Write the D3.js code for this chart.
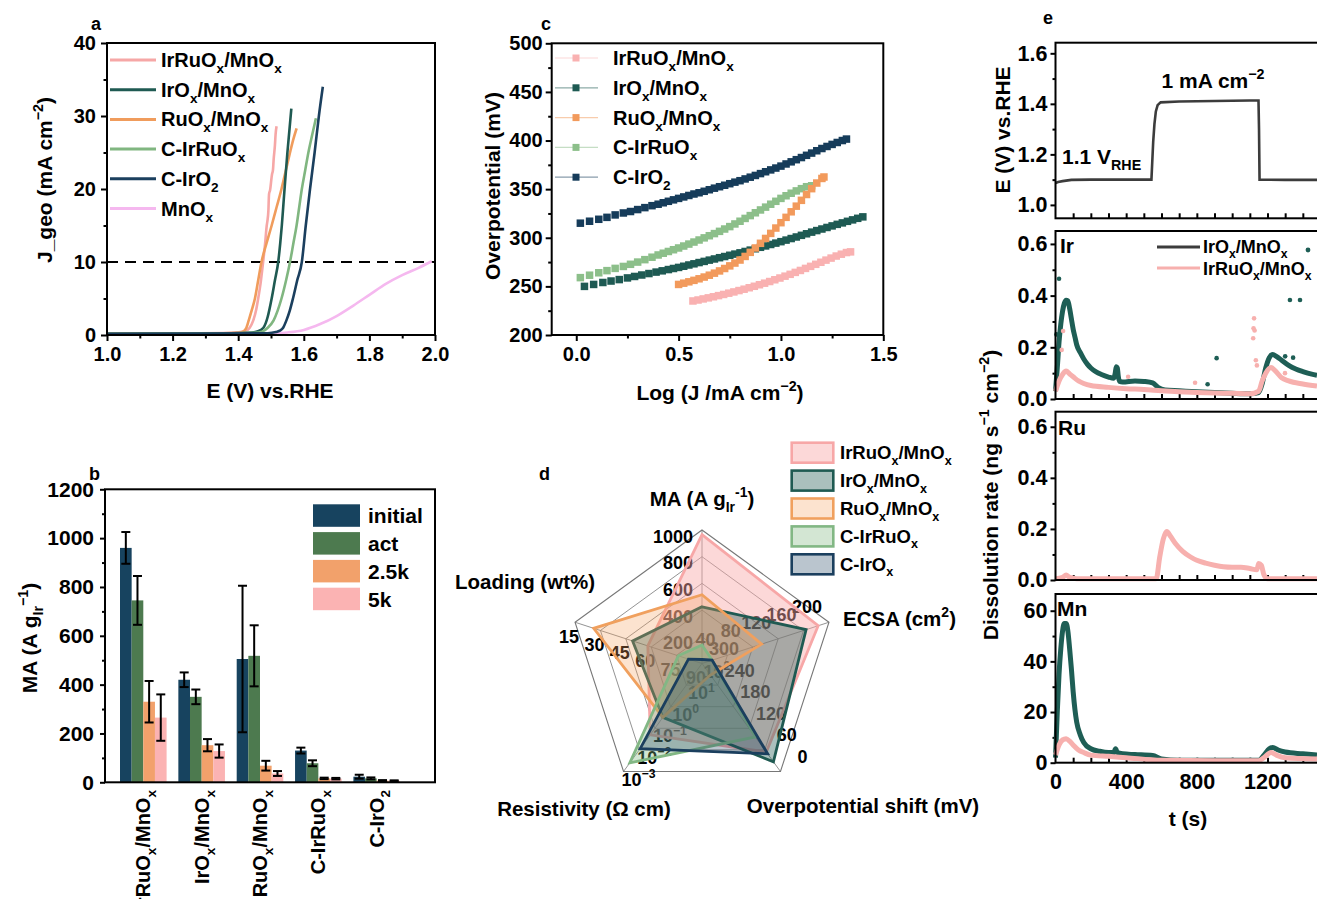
<!DOCTYPE html>
<html><head><meta charset="utf-8">
<script src="https://cdn.jsdelivr.net/npm/d3@7"></script>
<style>body{margin:0;background:#fff}svg{display:block}</style>
</head><body><svg id="fig" width="1317" height="899"></svg>
<script>
// ===================== DATA =====================
// ---- panel a : LSV curves [E (V vs RHE), J (mA cm-2)]
const lsvIrRuOxMnOx = [[1.0,0.15],[1.2,0.2],[1.38,0.3],[1.42,0.5],[1.435,1.0],[1.446,2.0],[1.455,3.5],[1.461,5],[1.468,7],[1.476,10],[1.482,12.5],[1.487,15],[1.489,15.6],[1.492,17],[1.494,19.3],[1.497,19.8],[1.503,22],[1.506,22.6],[1.508,24],[1.512,26],[1.514,27.5],[1.517,28.6]];
const lsvIrOxMnOx = [[1.0,0.15],[1.3,0.2],[1.44,0.35],[1.46,0.5],[1.477,1.0],[1.49,2.5],[1.502,5],[1.512,7.5],[1.522,10],[1.528,12.5],[1.533,15],[1.538,18],[1.543,21],[1.55,25],[1.556,28],[1.562,31]];
const lsvRuOxMnOx = [[1.0,0.15],[1.3,0.2],[1.40,0.3],[1.416,0.5],[1.425,1.0],[1.432,2],[1.442,3.5],[1.451,5],[1.461,7.5],[1.471,10],[1.486,12.5],[1.502,15],[1.517,17.5],[1.532,20],[1.545,22.5],[1.558,25],[1.568,26.8],[1.578,28.3]];
const lsvCIrRuOx = [[1.0,0.15],[1.3,0.2],[1.45,0.3],[1.475,0.5],[1.49,1.0],[1.508,2],[1.52,3.3],[1.532,5],[1.546,7.5],[1.558,10],[1.568,12.5],[1.578,15],[1.586,17.5],[1.594,20],[1.604,22.5],[1.614,25],[1.626,27.5],[1.637,29.7]];
const lsvCIrO2 = [[1.0,0.15],[1.3,0.2],[1.49,0.25],[1.515,0.4],[1.527,0.6],[1.537,1.0],[1.547,2],[1.557,3.3],[1.567,5],[1.58,7.5],[1.594,10],[1.606,15],[1.619,20],[1.633,25],[1.646,30],[1.658,34]];
const lsvMnOx = [[1.0,0.1],[1.3,0.15],[1.5,0.2],[1.55,0.35],[1.6,0.7],[1.65,1.5],[1.7,2.6],[1.75,4.0],[1.8,5.5],[1.85,7.0],[1.9,8.2],[1.95,9.2],[1.99,10.1]];
const aSeriesNames = ['IrRuO~x/MnO~x','IrO~x/MnO~x','RuO~x/MnO~x','C-IrRuO~x','C-IrO~2','MnO~x'];
const aXMajor = [1.0,1.2,1.4,1.6,1.8,2.0], aXMinor = [1.1,1.3,1.5,1.7,1.9];
const aYMajor = [0,10,20,30,40], aYMinor = [5,15,25,35];
const aRefJ = 10;

// ---- panel b : mass activity (A g_Ir^-1)
const bCategories = ['IrRuO~x/MnO~x','IrO~x/MnO~x','RuO~x/MnO~x','C-IrRuO~x','C-IrO~2'];
const bSeries = ['initial','act','2.5k','5k'];
const maInitial = [960,420,505,130,23],  maInitialErr = [65,30,300,12,8];
const maAct     = [745,350,518,78,16],   maActErr     = [100,30,125,12,4];
const ma2500    = [330,152,68,16,7],     ma2500Err    = [85,25,20,3,2];
const ma5000    = [265,128,36,15,6],     ma5000Err    = [95,27,10,3,2];
const bYMajor = [0,200,400,600,800,1000,1200], bYMinor = [100,300,500,700,900,1100];

// ---- panel c : Tafel [log J, overpotential mV]
const tafelIrRuOxMnOx = [[0.57,235],[0.595,236],[0.62,237.1],[0.645,238.2],[0.67,239.3],[0.695,240.5],[0.72,241.7],[0.745,243],[0.77,244.3],[0.795,245.7],[0.82,247.1],[0.845,248.6],[0.87,250.1],[0.895,251.7],[0.92,253.3],[0.945,255],[0.97,256.8],[0.995,258.6],[1.02,260.5],[1.045,262.4],[1.07,264.4],[1.095,266.4],[1.12,268.5],[1.145,270.6],[1.17,272.7],[1.195,274.8],[1.22,277],[1.245,279.1],[1.27,281.2],[1.295,283.1],[1.32,284.8],[1.34,285.5]];
const tafelIrOxMnOx = [[0.04,250],[0.085,252],[0.13,254],[0.17,255.5],[0.21,257],[0.25,258.7],[0.285,260.2],[0.32,261.7],[0.355,263.2],[0.39,264.7],[0.42,266],[0.45,267.3],[0.475,268.4],[0.50,269.5],[0.525,270.7],[0.55,272],[0.575,273.2],[0.60,274.5],[0.625,275.7],[0.65,277],[0.675,278.2],[0.70,279.5],[0.725,280.7],[0.75,282],[0.775,283.2],[0.80,284.5],[0.825,285.9],[0.85,287.3],[0.875,288.7],[0.90,290.2],[0.925,291.6],[0.95,293.1],[0.975,294.5],[1.00,296],[1.025,297.6],[1.05,299.2],[1.075,300.8],[1.10,302.5],[1.125,304.1],[1.15,305.8],[1.175,307.4],[1.20,309],[1.225,310.6],[1.25,312.2],[1.275,313.8],[1.30,315.3],[1.325,316.9],[1.35,318.4],[1.375,320],[1.40,321.5]];
const tafelRuOxMnOx = [[0.50,252],[0.525,253.3],[0.55,254.7],[0.575,256.2],[0.60,257.8],[0.625,259.6],[0.65,261.5],[0.675,263.6],[0.70,265.9],[0.725,268.4],[0.75,271.1],[0.775,274],[0.80,277.1],[0.825,280.8],[0.85,285],[0.875,289.5],[0.90,294.3],[0.925,299.3],[0.95,304.5],[0.975,310],[1.00,315.5],[1.025,321],[1.05,326.7],[1.075,332.5],[1.10,338.5],[1.125,344.5],[1.15,350.5],[1.175,356.3],[1.20,361],[1.21,362.5]];
const tafelCIrRuOx = [[0.02,259],[0.065,261.5],[0.11,264],[0.15,266.2],[0.19,268.5],[0.23,270.5],[0.265,272.7],[0.30,275],[0.335,277.5],[0.37,280],[0.40,282.3],[0.425,284.1],[0.45,285.9],[0.475,287.7],[0.50,289.5],[0.525,291.5],[0.55,293.5],[0.575,295.6],[0.60,297.7],[0.625,299.9],[0.65,302.1],[0.675,304.3],[0.70,306.6],[0.725,309],[0.75,311.5],[0.775,314.2],[0.80,317],[0.825,319.9],[0.85,322.8],[0.875,325.7],[0.90,328.6],[0.925,331.5],[0.95,334.5],[0.975,337.5],[1.00,340.5],[1.025,343.2],[1.05,345.8],[1.075,348.2],[1.10,350.5],[1.125,352.5],[1.15,353.5]];
const tafelCIrO2 = [[0.02,315],[0.065,317],[0.11,319],[0.15,321],[0.19,323.5],[0.23,325.5],[0.265,327],[0.30,329],[0.335,331],[0.37,333],[0.40,334.5],[0.425,336],[0.45,337.5],[0.475,339],[0.50,340.5],[0.525,342],[0.55,343.5],[0.575,345],[0.60,346.3],[0.625,347.8],[0.65,349.4],[0.675,351],[0.70,352.5],[0.725,354],[0.75,355.6],[0.775,357.2],[0.80,358.7],[0.825,360.5],[0.85,362.3],[0.875,364.1],[0.90,366],[0.925,367.9],[0.95,369.8],[0.975,371.7],[1.00,373.7],[1.025,375.9],[1.05,378.1],[1.075,380.3],[1.10,382.5],[1.125,384.8],[1.15,387.1],[1.175,389.5],[1.20,391.8],[1.225,393.9],[1.25,396],[1.275,398],[1.30,400],[1.32,401.5]];
const cSeriesNames = ['IrRuO~x/MnO~x','IrO~x/MnO~x','RuO~x/MnO~x','C-IrRuO~x','C-IrO~2'];
const cXMajor = [0,0.5,1.0,1.5], cXMinor = [0.25,0.75,1.25];
const cYMajor = [200,250,300,350,400,450,500], cYMinor = [225,275,325,375,425,475];

// ---- panel d : radar values [MA, ECSA, overpotential shift, resistivity, loading]
const radarAxisNames = ['MA (A g~{Ir}^{-1})','ECSA (cm^2)','Overpotential shift (mV)','Resistivity (\u03A9 cm)','Loading (wt%)'];
const radarIrRuOxMnOx = [965,183,54,0.05,58];
const radarIrOxMnOx   = [425,164,27,0.32,49];
const radarRuOxMnOx   = [515,94,268,0.32,26];
const radarCIrRuOx    = [139,16,96,0.0025,76];
const radarCIrOx      = [30,16,49,0.0115,82];
const dSeriesNames = ['IrRuO~x/MnO~x','IrO~x/MnO~x','RuO~x/MnO~x','C-IrRuO~x','C-IrO~x'];
const radarTicksMA   = [200,400,600,800,1000];
const radarTicksECSA = [40,80,120,160,200];
const radarTicksOP   = [300,240,180,120,60,0];
const radarTicksRes  = [100,10,1,0.1,0.01,0.001];
const radarTickLabelsRes = ['10^2','10^1','10^0','10^{\u22121}','10^{\u22122}','10^{\u22123}'];
const radarTicksLoad = [90,75,60,45,30,15];

// ---- panel e : time resolved potential / dissolution [t (s), value]
const potential = [[0,1.087],[15,1.091],[40,1.094],[70,1.097],[90,1.099],[200,1.1],[400,1.1],[543,1.1],[547,1.16],[553,1.25],[560,1.32],[568,1.37],[578,1.395],[595,1.406],[700,1.409],[900,1.411],[1100,1.413],[1149,1.413],[1152,1.3],[1155,1.1],[1300,1.099],[1500,1.099]];
const irIrOxMnOx = [[0,0.03],[10,0.12],[20,0.22],[30,0.29],[40,0.34],[50,0.37],[60,0.382],[70,0.38],[80,0.35],[90,0.31],[100,0.27],[110,0.24],[120,0.21],[140,0.18],[160,0.155],[180,0.135],[200,0.12],[230,0.105],[260,0.095],[300,0.085],[330,0.08],[338,0.1],[344,0.125],[350,0.12],[355,0.09],[362,0.068],[380,0.066],[450,0.07],[500,0.068],[550,0.062],[580,0.045],[620,0.035],[700,0.032],[800,0.028],[900,0.025],[1000,0.022],[1100,0.02],[1150,0.025],[1170,0.06],[1190,0.12],[1210,0.16],[1230,0.172],[1250,0.165],[1280,0.15],[1320,0.13],[1360,0.116],[1400,0.106],[1450,0.096],[1480,0.092]];
const irIrRuOxMnOx = [[0,0.03],[20,0.07],[40,0.095],[60,0.108],[80,0.097],[100,0.086],[130,0.07],[160,0.06],[200,0.052],[300,0.045],[400,0.04],[500,0.037],[600,0.032],[700,0.028],[800,0.025],[900,0.023],[1000,0.022],[1100,0.02],[1150,0.03],[1170,0.07],[1190,0.1],[1220,0.122],[1240,0.112],[1280,0.082],[1320,0.07],[1400,0.058],[1480,0.05]];
const irOutIrOx = [[5,0.25],[20,0.465],[861,0.057],[912,0.158],[1300,0.165],[1327,0.383],[1345,0.16],[1384,0.383]];
const irOutIrRuOx = [[35,0.19],[43,0.263],[411,0.086],[790,0.063],[1119,0.235],[1121,0.274],[1124,0.312],[1127,0.265],[1134,0.15],[1140,0.13],[1299,0.10]];
const ruIrRuOxMnOx = [[0,0.005],[40,0.01],[60,0.02],[80,0.01],[120,0.005],[500,0.005],[570,0.005],[590,0.09],[610,0.16],[630,0.19],[650,0.172],[680,0.142],[720,0.112],[760,0.092],[800,0.077],[850,0.066],[900,0.058],[950,0.052],[1000,0.05],[1050,0.05],[1100,0.045],[1140,0.04],[1150,0.065],[1165,0.058],[1180,0.02],[1200,0.005],[1480,0.005]];
const mnIrOxMnOx = [[0,2],[10,20],[20,35],[30,45],[40,52],[50,55],[60,55],[70,52],[80,45],[90,37],[100,28],[110,21],[120,16],[140,11],[160,8],[200,5.5],[250,4.5],[300,4],[330,4],[340,5.5],[350,4],[380,3.5],[450,3.2],[550,2.8],[600,1.5],[700,1],[1000,1],[1150,1],[1180,3],[1210,5.5],[1230,6],[1260,5],[1300,4.2],[1400,3.5],[1480,3]];
const mnIrRuOxMnOx = [[0,3],[20,7],[40,9],[60,9.5],[80,8.5],[100,7],[130,5],[160,4],[200,3],[300,2.5],[400,2],[600,1],[1000,0.8],[1150,0.8],[1180,2],[1220,4],[1250,3],[1300,2],[1480,1.5]];
const eXMinor = [100,200,300,400,500,600,700,800,900,1000,1100,1200,1300,1400];
const eXMajor = [0,400,800,1200];
const eYE = [1.0,1.2,1.4,1.6], eYEMinor = [1.1,1.3,1.5];
const eYIr = [0,0.2,0.4,0.6], eYIrMinor = [0.1,0.3,0.5];
const eYMn = [0,20,40,60], eYMnMinor = [10,30,50];
const eLegendNames = ['IrO~x/MnO~x','IrRuO~x/MnO~x'];

// ===================== HELPERS =====================
const FONT = '"Liberation Sans", Arial, Helvetica, sans-serif';
const svg = d3.select('#fig').attr('font-family', FONT).attr('font-weight','bold');

function rich(sel, str, fs) {
  const segs = []; let i = 0, cur = '';
  while (i < str.length) {
    const c = str[i];
    if (c === '~' || c === '^') {
      if (cur) segs.push({t:cur,k:0}); cur = '';
      let g;
      if (str[i+1] === '{') { const j = str.indexOf('}', i+2); g = str.slice(i+2, j); i = j+1; }
      else { g = str[i+1]; i += 2; }
      segs.push({t:g, k: c === '~' ? 1 : -1});
    } else { cur += c; i++; }
  }
  if (cur) segs.push({t:cur,k:0});
  let off = 0;
  segs.forEach(s => {
    const target = s.k === 1 ? 0.3*fs : s.k === -1 ? -0.42*fs : 0;
    const ts = sel.append('tspan').text(s.t);
    if (target - off !== 0) ts.attr('dy', target - off);
    if (s.k) ts.attr('font-size', 0.68*fs);
    off = target;
  });
}
function txt(g, x, y, str, fs, o = {}) {
  const t = g.append('text').attr('x', x).attr('y', y).attr('font-size', fs)
    .attr('text-anchor', o.anchor || 'start').attr('fill', o.fill || '#000')
    .attr('font-family', FONT).attr('font-weight', 'bold');
  if (o.rotate) t.attr('transform', `rotate(${o.rotate},${x},${y})`);
  rich(t, str, fs);
  return t;
}
function box(g, x0, y0, x1, y1) {
  g.append('rect').attr('x', x0).attr('y', y0).attr('width', x1-x0).attr('height', y1-y0)
    .attr('fill','none').attr('stroke','#000').attr('stroke-width',2);
}
function addAxis(g, gen, tx, ty, fs) {
  const a = g.append('g').attr('transform', `translate(${tx},${ty})`).call(gen);
  a.attr('font-family', FONT).attr('font-size', fs).attr('font-weight','bold');
  a.select('.domain').remove();
  a.selectAll('.tick line').attr('stroke','#000').attr('stroke-width',2);
  a.selectAll('.tick text').attr('fill','#000');
  return a;
}

// ===================== PANEL A =====================
(function(){
  const g = svg.append('g');
  const x = d3.scaleLinear([1,2],[107,435]);
  const y = d3.scaleLinear([0,40],[335,43]);
  const colors = ['#f6a7a6','#1f5a52','#f09c5c','#80b680','#1b3f5e','#f5b8ef'];
  const series = [lsvIrRuOxMnOx, lsvIrOxMnOx, lsvRuOxMnOx, lsvCIrRuOx, lsvCIrO2, lsvMnOx];
  addAxis(g, d3.axisBottom(x).tickValues(aXMajor).tickSizeInner(6).tickSizeOuter(0).tickPadding(6).tickFormat(d3.format('.1f')), 0, 335, 20);
  addAxis(g, d3.axisBottom(x).tickValues(aXMinor).tickSizeInner(3.5).tickSizeOuter(0).tickFormat(''), 0, 335, 20);
  addAxis(g, d3.axisLeft(y).tickValues(aYMajor).tickSizeInner(6).tickSizeOuter(0).tickPadding(5).tickFormat(d3.format('d')), 107, 0, 20);
  addAxis(g, d3.axisLeft(y).tickValues(aYMinor).tickSizeInner(3.5).tickSizeOuter(0).tickFormat(''), 107, 0, 20);
  g.append('line').attr('x1', x(1)).attr('x2', x(2)).attr('y1', y(aRefJ)).attr('y2', y(aRefJ))
    .attr('stroke','#000').attr('stroke-width',2).attr('stroke-dasharray','11,7');
  const line = d3.line().x(d => x(d[0])).y(d => y(d[1])).curve(d3.curveMonotoneX);
  [5,0,2,1,3,4].forEach(i => {
    g.append('path').attr('d', line(series[i])).attr('fill','none').attr('stroke', colors[i]).attr('stroke-width', 2.6);
  });
  aSeriesNames.forEach((n, i) => {
    const yy = 60 + i*29.7;
    g.append('line').attr('x1',110).attr('x2',156).attr('y1',yy).attr('y2',yy).attr('stroke',colors[i]).attr('stroke-width',3);
    txt(g, 161, yy+7, n, 20);
  });
  box(g, 107, 43, 435, 335);
  txt(g, 52, 180, 'J_geo (mA cm^{\u22122})', 21, {anchor:'middle', rotate:-90});
  txt(g, 270, 398, 'E (V) vs.RHE', 21, {anchor:'middle'});
  txt(g, 91, 30, 'a', 18);
})();

// ===================== PANEL B =====================
(function(){
  const g = svg.append('g');
  const xg = d3.scalePoint(bCategories, [143.3, 376.7]);
  const xi = d3.scaleBand(bSeries, [-23.3, 23.3]);
  const y = d3.scaleLinear([0,1200],[782.3,489.3]);
  const colors = ['#17435f','#4d7a4f','#f2a16b','#fbb3b3'];
  const vals = [maInitial, maAct, ma2500, ma5000];
  const errs = [maInitialErr, maActErr, ma2500Err, ma5000Err];
  addAxis(g, d3.axisLeft(y).tickValues(bYMajor).tickSizeInner(5).tickSizeOuter(0).tickPadding(6).tickFormat(d3.format('d')), 105, 0, 21);
  addAxis(g, d3.axisLeft(y).tickValues(bYMinor).tickSizeInner(3).tickSizeOuter(0).tickFormat(''), 105, 0, 21);
  bSeries.forEach((s, si) => {
    bCategories.forEach((c, ci) => {
      const x0 = xg(c) + xi(s);
      g.append('rect').attr('x', x0).attr('width', xi.bandwidth()).attr('y', y(vals[si][ci]))
        .attr('height', y(0) - y(vals[si][ci])).attr('fill', colors[si]);
    });
  });
  bSeries.forEach((s, si) => {
    bCategories.forEach((c, ci) => {
      const xc = xg(c) + xi(s) + xi.bandwidth()/2;
      const hi = y(vals[si][ci] + errs[si][ci]), lo = y(Math.max(0, vals[si][ci] - errs[si][ci]));
      g.append('line').attr('x1',xc).attr('x2',xc).attr('y1',hi).attr('y2',lo).attr('stroke','#000').attr('stroke-width',2);
      [hi, lo].forEach(yy => g.append('line').attr('x1',xc-4.5).attr('x2',xc+4.5).attr('y1',yy).attr('y2',yy).attr('stroke','#000').attr('stroke-width',2));
    });
  });
  box(g, 105, 489.3, 435, 782.3);
  bCategories.forEach(c => {
    txt(g, xg(c)+7, 790, c, 20, {anchor:'end', rotate:-90});
  });
  bSeries.forEach((s, i) => {
    const top = 504.3 + i*27.8;
    g.append('rect').attr('x',313).attr('y',top).attr('width',47).attr('height',22.5).attr('fill',colors[i]);
    txt(g, 368, top + 19, s, 21);
  });
  txt(g, 37, 638, 'MA (A g~{Ir}^{\u22121})', 21, {anchor:'middle', rotate:-90});
  txt(g, 89, 480, 'b', 18);
})();

// ===================== PANEL C =====================
(function(){
  const g = svg.append('g');
  const x = d3.scaleLinear([-0.12,1.5],[551.7,883.3]);
  const y = d3.scaleLinear([200,500],[335,43.3]);
  const colors = ['#f9b1b1','#1e5a53','#f29a5c','#8cbf8a','#163c5a'];
  const series = [tafelIrRuOxMnOx, tafelIrOxMnOx, tafelRuOxMnOx, tafelCIrRuOx, tafelCIrO2];
  addAxis(g, d3.axisBottom(x).tickValues(cXMajor).tickSizeInner(6).tickSizeOuter(0).tickPadding(6).tickFormat(d3.format('.1f')), 0, 335, 20);
  addAxis(g, d3.axisBottom(x).tickValues(cXMinor).tickSizeInner(3.5).tickSizeOuter(0).tickFormat(''), 0, 335, 20);
  addAxis(g, d3.axisLeft(y).tickValues(cYMajor).tickSizeInner(6).tickSizeOuter(0).tickPadding(3).tickFormat(d3.format('d')), 551.7, 0, 20);
  addAxis(g, d3.axisLeft(y).tickValues(cYMinor).tickSizeInner(3.5).tickSizeOuter(0).tickFormat(''), 551.7, 0, 20);
  const s = 7.5;
  [0,1,3,2,4].forEach(i => {
    g.append('g').selectAll('rect').data(series[i]).join('rect')
      .attr('x', d => x(d[0]) - s/2).attr('y', d => y(d[1]) - s/2).attr('width', s).attr('height', s)
      .attr('fill', colors[i]);
  });
  cSeriesNames.forEach((n, i) => {
    const yy = 58 + i*29.8;
    g.append('line').attr('x1',555).attr('x2',598).attr('y1',yy).attr('y2',yy).attr('stroke',colors[i]).attr('stroke-width',1.2).attr('opacity',0.5);
    g.append('rect').attr('x',576-3.5).attr('y',yy-3.5).attr('width',7).attr('height',7).attr('fill',colors[i]);
    txt(g, 613, yy+7, n, 20);
  });
  box(g, 551.7, 43.3, 883.3, 335);
  txt(g, 500, 186, 'Overpotential (mV)', 21, {anchor:'middle', rotate:-90});
  txt(g, 720, 400, 'Log (J /mA cm^{\u22122})', 21, {anchor:'middle'});
  txt(g, 541, 30, 'c', 18);
})();

// ===================== PANEL D (radar) =====================
(function(){
  const g = svg.append('g');
  const cx = 702, cy = 663.5, R = 133.5;
  const angles = [-90,-18,54,126,198];
  const rs = [
    d3.scaleLinear([0,1000],[0,R]),
    d3.scaleLinear([0,200],[0,R]),
    d3.scaleLinear([300,0],[0,R]),
    d3.scaleLog([100,0.001],[0,R]),
    d3.scaleLinear([90,15],[0,R])
  ];
  const pt = (ai, r) => { const a = angles[ai]*Math.PI/180; return [cx + r*Math.cos(a), cy + r*Math.sin(a)]; };
  const vpt = (ai, v) => pt(ai, rs[ai](v));
  const closed = d3.line().curve(d3.curveLinearClosed);
  radarTicksMA.forEach(v => {
    const r = rs[0](v);
    g.append('path').attr('d', closed(angles.map((a, i) => pt(i, r)))).attr('fill','none')
      .attr('stroke', '#777').attr('stroke-width', v === 1000 ? 1.1 : 0.8);
  });
  angles.forEach((a, i) => {
    const p = pt(i, R);
    g.append('line').attr('x1',cx).attr('y1',cy).attr('x2',p[0]).attr('y2',p[1]).attr('stroke','#777').attr('stroke-width',0.8);
  });
  const fs = 18;
  radarTicksMA.forEach(v => { const p = vpt(0, v); txt(g, p[0]-9, p[1]+12.5, String(v), fs, {anchor:'end'}); });
  radarTicksECSA.forEach(v => { const p = vpt(1, v); txt(g, p[0]-22, p[1]-9.5, String(v), fs, {anchor:'middle'}); });
  radarTicksOP.forEach(v => { const p = vpt(2, v); txt(g, p[0]+22, p[1]-8.5, String(v), fs, {anchor:'middle'}); });
  radarTicksRes.forEach((v, i) => { const p = vpt(3, v); txt(g, p[0]+15, p[1]+14, radarTickLabelsRes[i], fs, {anchor:'middle'}); });
  radarTicksLoad.forEach(v => { const p = vpt(4, v); txt(g, p[0]-6, p[1]+20.5, String(v), fs, {anchor:'middle'}); });
  const series = [radarIrRuOxMnOx, radarIrOxMnOx, radarRuOxMnOx, radarCIrRuOx, radarCIrOx];
  const strokes = ['#f7a7a7','#1f5a52','#f0a05e','#82b784','#1b3f5e'];
  const fills = ['#f9a8a8','#1f5a52','#f4a261','#80b680','#1b3f5e'];
  const ops = [0.45,0.38,0.3,0.35,0.3];
  series.forEach((vals, si) => {
    g.append('path').attr('d', closed(vals.map((v, ai) => vpt(ai, v))))
      .attr('fill', fills[si]).attr('fill-opacity', ops[si])
      .attr('stroke', strokes[si]).attr('stroke-width', 2.8).attr('stroke-linejoin','miter');
  });
  txt(g, 702, 506, radarAxisNames[0], 20.5, {anchor:'middle'});
  txt(g, 843, 626, radarAxisNames[1], 20.5);
  txt(g, 863, 813, radarAxisNames[2], 20.5, {anchor:'middle'});
  txt(g, 584, 816, radarAxisNames[3], 20.5, {anchor:'middle'});
  txt(g, 525, 589, radarAxisNames[4], 20.5, {anchor:'middle'});
  dSeriesNames.forEach((n, i) => {
    const top = 442.7 + i*27.9;
    g.append('rect').attr('x',791.7).attr('y',top).attr('width',41.6).attr('height',20)
      .attr('fill', fills[i]).attr('fill-opacity', ops[i]).attr('stroke', strokes[i]).attr('stroke-width',2.6);
    txt(g, 840, top + 16.5, n, 18.5);
  });
  txt(g, 539, 480, 'd', 18);
})();

// ===================== PANEL E =====================
(function(){
  const g = svg.append('g');
  const x = d3.scaleLinear([0,1500],[1055.5,1320.5]);
  const teal = '#1e5e55', pink = '#f7b0ae', grey = '#3c3c3c';
  const subs = [
    {top:42.7, bottom:218.3, dom:[0.947,1.642], maj:eYE, min:eYEMinor, fmt:d3.format('.1f')},
    {top:231, bottom:399, dom:[0,0.65], maj:eYIr, min:eYIrMinor, fmt:d3.format('.1f')},
    {top:411.7, bottom:580, dom:[0,0.659], maj:eYIr, min:eYIrMinor, fmt:d3.format('.1f')},
    {top:594, bottom:762.7, dom:[0,66.6], maj:eYMn, min:eYMnMinor, fmt:d3.format('d')}
  ];
  const ys = subs.map(s => d3.scaleLinear(s.dom, [s.bottom, s.top]));
  const line = (ys_) => d3.line().x(d => x(d[0])).y(d => ys_(d[1])).curve(d3.curveMonotoneX);
  subs.forEach((s, i) => {
    addAxis(g, d3.axisLeft(ys[i]).tickValues(s.maj).tickSizeInner(5).tickSizeOuter(0).tickPadding(3).tickFormat(s.fmt), 1055.5, 0, 21.5);
    addAxis(g, d3.axisLeft(ys[i]).tickValues(s.min).tickSizeInner(3).tickSizeOuter(0).tickFormat(''), 1055.5, 0, 21.5);
    addAxis(g, d3.axisBottom(x).tickValues(eXMinor).tickSizeInner(-5).tickSizeOuter(0).tickFormat(''), 0, s.bottom, 21.5);
  });
  addAxis(g, d3.axisBottom(x).tickValues(eXMajor).tickSizeInner(0).tickSizeOuter(0).tickPadding(11).tickFormat(d3.format('d')), 0, 762.7, 21.5);
  g.append('path').attr('d', d3.line().x(d => x(d[0])).y(d => ys[0](d[1]))(potential)).attr('fill','none').attr('stroke',grey).attr('stroke-width',2.6);
  g.append('path').attr('d', line(ys[1])(irIrOxMnOx)).attr('fill','none').attr('stroke',teal).attr('stroke-width',5).attr('stroke-linejoin','round');
  g.append('path').attr('d', line(ys[1])(irIrRuOxMnOx)).attr('fill','none').attr('stroke',pink).attr('stroke-width',5).attr('stroke-linejoin','round');
  g.append('g').selectAll('circle').data(irOutIrOx).join('circle').attr('cx', d => x(d[0])).attr('cy', d => ys[1](d[1])).attr('r',2.3).attr('fill',teal);
  g.append('g').selectAll('circle').data(irOutIrRuOx).join('circle').attr('cx', d => x(d[0])).attr('cy', d => ys[1](d[1])).attr('r',2.3).attr('fill',pink);
  g.append('path').attr('d', line(ys[2])(ruIrRuOxMnOx)).attr('fill','none').attr('stroke',pink).attr('stroke-width',5).attr('stroke-linejoin','round');
  g.append('path').attr('d', line(ys[3])(mnIrOxMnOx)).attr('fill','none').attr('stroke',teal).attr('stroke-width',5).attr('stroke-linejoin','round');
  g.append('path').attr('d', line(ys[3])(mnIrRuOxMnOx)).attr('fill','none').attr('stroke',pink).attr('stroke-width',5).attr('stroke-linejoin','round');
  subs.forEach(s => box(g, 1055.5, s.top, 1320.5, s.bottom));
  txt(g, 1213, 88, '1 mA cm^{\u22122}', 21, {anchor:'middle'});
  txt(g, 1062, 164, '1.1 V~{RHE}', 21);
  txt(g, 1060, 253, 'Ir', 21);
  txt(g, 1058, 435, 'Ru', 21);
  txt(g, 1057, 616, 'Mn', 21);
  g.append('line').attr('x1',1157).attr('x2',1200).attr('y1',247).attr('y2',247).attr('stroke',grey).attr('stroke-width',3);
  txt(g, 1203, 253, eLegendNames[0], 18);
  g.append('circle').attr('cx',1308).attr('cy',250).attr('r',2.4).attr('fill',teal);
  g.append('line').attr('x1',1157).attr('x2',1200).attr('y1',268).attr('y2',268).attr('stroke',pink).attr('stroke-width',3);
  txt(g, 1203, 275, eLegendNames[1], 18);
  txt(g, 1010, 130, 'E (V) vs.RHE', 21, {anchor:'middle', rotate:-90});
  txt(g, 998, 495, 'Dissolution rate (ng s^{\u22121} cm^{\u22122})', 21, {anchor:'middle', rotate:-90});
  txt(g, 1188, 826, 't (s)', 21, {anchor:'middle'});
  txt(g, 1043, 24, 'e', 18);
})();
</script></body></html>
